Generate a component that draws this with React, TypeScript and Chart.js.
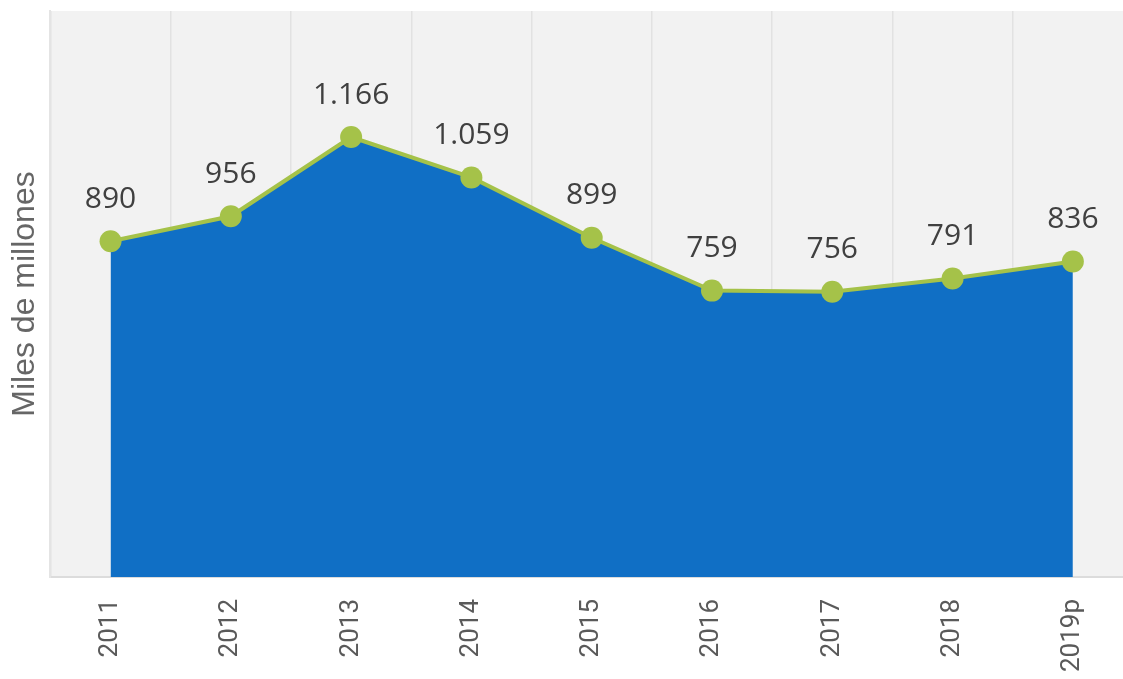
import React, { useEffect, useRef } from "react";
import { Chart, registerables } from "chart.js";

Chart.register(...registerables);

const categories = ["2011", "2012", "2013", "2014", "2015", "2016", "2017", "2018", "2019p"];
const values = [890, 956, 1166, 1059, 899, 759, 756, 791, 836];
const valueLabels = ["890", "956", "1.166", "1.059", "899", "759", "756", "791", "836"];
const yAxisTitle = "Miles de millones";
const yMin = 0;
const yMax = 1500;

export default function App() {
  const ref = useRef<HTMLCanvasElement>(null);

  useEffect(() => {
    document.body.style.margin = "0";
    const bgPlugin = {
      id: "bgPlugin",
      beforeDraw(chart: any) {
        const { ctx, chartArea: a } = chart;
        ctx.save();
        ctx.fillStyle = "#f2f2f2";
        ctx.fillRect(a.left, a.top, a.right - a.left, a.bottom - a.top);
        ctx.restore();
      },
    };
    const labelPlugin = {
      id: "labelPlugin",
      afterDatasetsDraw(chart: any) {
        const { ctx } = chart;
        const meta = chart.getDatasetMeta(0);
        ctx.save();
        ctx.font = "30px 'Open Sans'";
        ctx.fillStyle = "#404040";
        ctx.textAlign = "center";
        ctx.textBaseline = "middle";
        meta.data.forEach((pt: any, i: number) => {
          ctx.fillText(valueLabels[i], pt.x, pt.y - 42);
        });
        ctx.restore();
      },
    };
    const chart = new Chart(ref.current!, {
      type: "line",
      data: {
        labels: categories,
        datasets: [
          {
            data: values,
            borderColor: "#a5c249",
            backgroundColor: "#106fc5",
            fill: "origin",
            borderWidth: 4,
            pointRadius: 11,
            pointHoverRadius: 11,
            pointBackgroundColor: "#a5c249",
            pointBorderWidth: 0,
            tension: 0,
          },
        ],
      },
      options: {
        responsive: false,
        animation: false,
        layout: { padding: { left: 4, top: 10, right: 0, bottom: 0 } },
        plugins: {
          legend: { display: false },
          tooltip: { enabled: false },
        },
        scales: {
          x: {
            offset: true,
            afterFit(scale: any) {
              scale.height = 102;
            },
            grid: { display: true, offset: true, color: "#e2e2e2", lineWidth: 1.5, drawTicks: false },
            border: { display: true, color: "#dcdcdc", width: 2 },
            ticks: {
              minRotation: 90,
              maxRotation: 90,
              padding: 22,
              color: "#5a5a5a",
              font: { family: "Roboto", size: 26 },
            },
          },
          y: {
            min: yMin,
            max: yMax,
            grid: { display: false, drawTicks: false },
            border: { display: true, color: "#e4e4e4", width: 2 },
            ticks: { display: false },
            title: {
              display: true,
              text: yAxisTitle,
              color: "#666666",
              padding: { top: 2, bottom: 6 },
              font: { family: "'Liberation Sans'", size: 32 },
            },
          },
        },
      },
      plugins: [bgPlugin, labelPlugin],
    });
    return () => chart.destroy();
  }, []);

  return (
    <div style={{ width: 1123, height: 679, overflow: "hidden" }}>
      <canvas ref={ref} width={1144} height={679} />
    </div>
  );
}
